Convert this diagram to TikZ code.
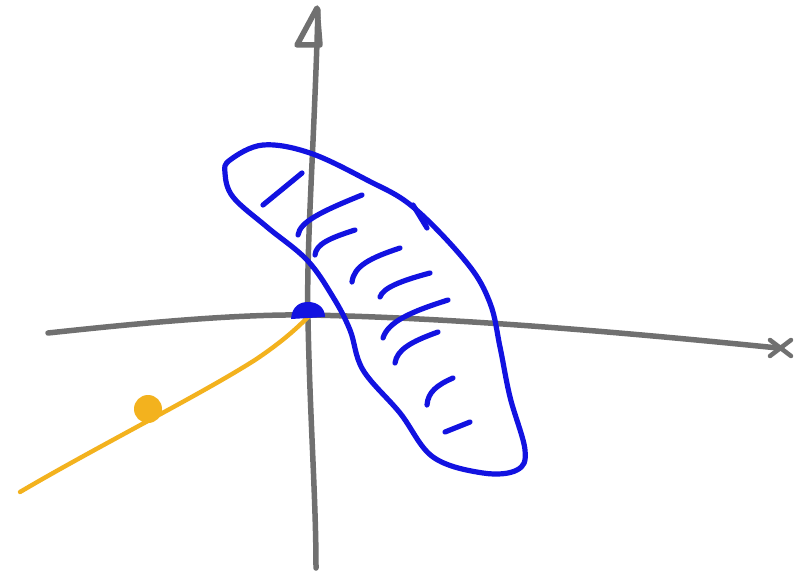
\documentclass[tikz,border=0pt]{standalone}
\begin{document}
\begin{tikzpicture}[x=1bp,y=-1bp,
  axis/.style={draw=axisgray,line width=5.5bp,line cap=round,line join=round},
  blob/.style={draw=penblue,line width=5.2bp,line cap=round,line join=round},
  hatch/.style={draw=penblue,line width=5.2bp,line cap=round},
  ray/.style={draw=rayorange,line width=4.4bp,line cap=round}]
\definecolor{axisgray}{RGB}{112,112,112}
\definecolor{penblue}{RGB}{18,18,225}
\definecolor{rayorange}{RGB}{243,178,30}
\useasboundingbox (0,0) rectangle (812,577);
\fill[white] (0,0) rectangle (812,577);
% axes
\draw[axis] (318,10) .. controls (314,150) and (306,250) .. (308,320) .. controls (310,420) and (316,500) .. (316,568);
\draw[axis] (297,45) -- (317,8) -- (320,45) -- cycle;
\draw[axis] (48,333) .. controls (150,322) and (240,314) .. (310,315) .. controls (450,318) and (600,330) .. (778,348);
\draw[axis,line width=4.5bp] (770,340) -- (791,356) (770,356) -- (791,340);
% orange ray
\draw[ray] (20,492) .. controls (100,445) and (200,395) .. (255,360) .. controls (285,340) and (300,325) .. (308,317);
\fill[rayorange] (148,409) circle (14);
% blue region
\draw[blob] plot[smooth cycle,tension=0.6] coordinates {
  (230,160) (263,145) (310,153) (367,180) (413,207) (467,263) (490,303)
  (500,347) (510,397) (525,450) (517,470) (483,473) (433,457) (400,413)
  (363,370) (350,330) (333,297) (307,260) (267,227) (233,197) (225,173)};
\draw[blob] (413,205) -- (427,228);
% hatching
\draw[hatch] (302,173) .. controls (285,187) .. (263,205);
\draw[hatch] (362,195) .. controls (320,212) and (300,222) .. (298,235);
\draw[hatch] (355,230) .. controls (330,238) and (316,244) .. (315,255);
\draw[hatch] (400,248) .. controls (370,258) and (354,266) .. (352,282);
\draw[hatch] (430,273) .. controls (400,281) and (383,288) .. (380,297);
\draw[hatch] (448,300) .. controls (410,312) and (388,322) .. (383,338);
\draw[hatch] (438,332) .. controls (410,342) and (397,350) .. (395,363);
\draw[hatch] (453,378) .. controls (437,385) and (428,392) .. (427,405);
\draw[hatch] (470,422) -- (445,432);
% origin dot
\fill[penblue] (291,319) .. controls (292,306) and (300,302) .. (308,302) .. controls (318,302) and (325,308) .. (325,317) -- cycle;
\end{tikzpicture}
\end{document}
